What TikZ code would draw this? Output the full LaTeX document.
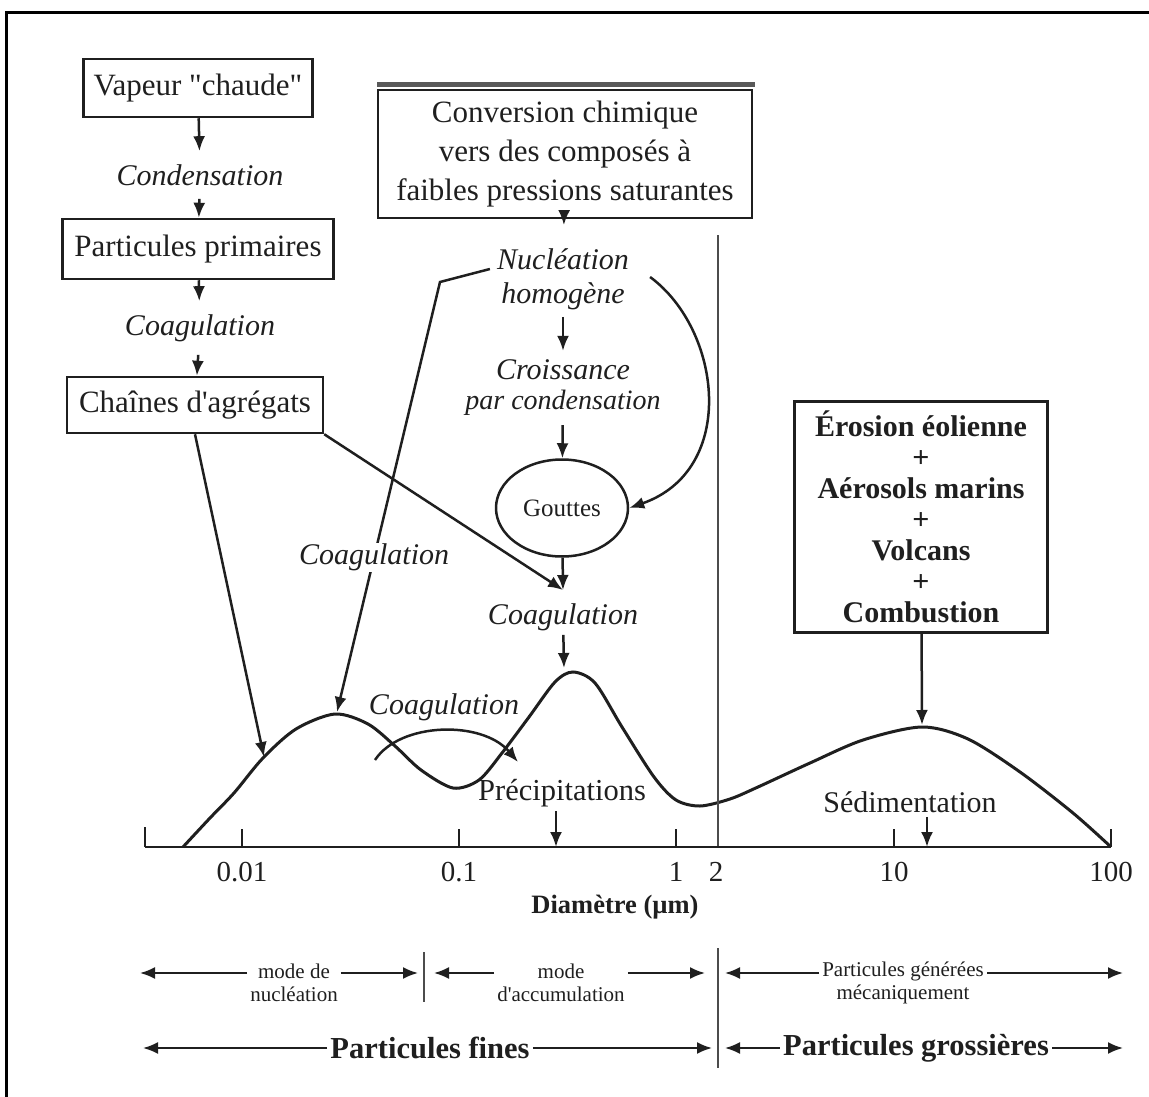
\documentclass[tikz,border=0pt]{standalone}
\usepackage{fontspec}
\setmainfont{Liberation Serif}[Ligatures=TeXOff]
\usetikzlibrary{shapes.geometric,arrows.meta}
\definecolor{ink}{gray}{0.12}

\begin{document}
\begin{tikzpicture}[
x=1pt, y=-1pt,
line width=2.5pt, draw=ink, text=ink,
>={Latex[length=15pt,width=12pt]},
]

\tikzstyle{bx} = [draw, shape=rectangle, line width=2.5pt, inner xsep=10pt, minimum height=58pt, font=\fontsize{31}{39}\selectfont]
\tikzstyle{itl} = [font=\itshape\fontsize{30}{34}\selectfont, inner sep=3pt]
\tikzstyle{flowlbl} = [itl, inner ysep=12pt]
\tikzstyle{rm} = [font=\fontsize{29}{32}\selectfont, inner sep=3pt]
\tikzstyle{mlbl} = [font=\fontsize{21}{23}\selectfont, align=center, inner xsep=2pt]
\tikzstyle{big} = [font=\bfseries\fontsize{30.5}{32}\selectfont, inner xsep=2pt]
\tikzstyle{thin} = [line width=1.2pt, draw=black!70]

\useasboundingbox (0,0) rectangle (1149,1097);
\draw[line width=3pt, black] (1149,13) -- (6,13) -- (6,1097);

% chain on the left
\node[bx] (vap) at (198,88) {Vapeur "chaude"};
\node[flowlbl] (cond) at (200,175) {Condensation};
\node[bx, inner xsep=12pt, minimum height=60pt] (prim) at (198,249) {Particules primaires};
\node[flowlbl] (coag1) at (200,328) {Coagulation};
\node[bx, inner xsep=12pt, minimum height=56pt] (chain) at (195,405) {Chaînes d'agrégats};
\draw[->] (vap) -- (cond);
\draw[->] (cond) -- (prim);
\draw[->] (prim) -- (coag1);
\draw[->] (coag1) -- (chain);

% chemistry in the middle
\draw[line width=5pt, black!65] (377,85) -- (755,85);
\node[bx, align=center, minimum width=374pt, minimum height=128pt] (conv) at (565,154)
  {Conversion chimique\\vers des composés à\\faibles pressions saturantes};
\node[itl, align=center, inner sep=6pt] (nuc) at (563,279) {Nucléation\\homogène};
\node[itl, align=center, inner sep=8pt] (crois) at (563,388) {Croissance\\[-4pt]{\fontsize{28}{30}\selectfont par condensation}};
\node[draw, ellipse, line width=2.5pt, minimum width=132pt, minimum height=97pt, font=\fontsize{25}{28}\selectfont] (gtt) at (562,508) {Gouttes};
\coordinate (cg) at (563,590);
\node[itl] (coag2) at (563,617) {Coagulation};
\draw[->, shorten >=16pt] (conv) -- (nuc);
\draw[->] (nuc) -- (crois);
\draw[->] (crois) -- (gtt);
\draw[->] (gtt) -- (cg);
\draw[->] ([xshift=14pt, yshift=2pt]nuc.east) .. controls (722,330) and (738,470) .. (gtt.east);

% source box on the right
\node[bx, align=center, font=\bfseries\fontsize{30}{31}\selectfont, minimum width=253pt, minimum height=231pt] (src) at (921,517)
  {Érosion éolienne\\+\\Aérosols marins\\+\\Volcans\\+\\Combustion};

% size distribution
\coordinate (a1) at (264,757);
\coordinate (p1) at (337,712);
\coordinate (p2) at (564,668);
\coordinate (p3) at (922,725);
\coordinate (pr) at (556,847);
\coordinate (sd) at (927,847);
\draw[line width=3pt] plot[smooth, tension=0.5] coordinates {(183,847) (210,818) (234,793) (263,758) (296,729) (335,714) (368,724) (395,746) (421,770) (453,788) (479,780) (502,753) (529,717) (555,682) (573,672) (595,683) (622,727) (654,777) (676,800) (700,806) (730,799) (758,787) (810,763) (863,740) (922,727) (968,739) (1020,772) (1073,813) (1111,847)};

\draw[thin] (718,235) -- (718,847);
\draw[thin] (718,948) -- (718,1068);
\draw[thin] (424,952) -- (424,1002);

\draw (145,847) -- (1111,847);
\draw (145,847) -- (145,827);
\node[rm, anchor=base] (t1) at (242,881) {0.01};
\node[rm, anchor=base] (t2) at (459,881) {0.1};
\node[rm, anchor=base] (t3) at (676,881) {1};
\node[rm, anchor=base] (t4) at (716,881) {2};
\node[rm, anchor=base] (t5) at (894,881) {10};
\node[rm, anchor=base] (t6) at (1111,881) {100};
\draw (242,847) -- (242,829);
\draw (459,847) -- (459,829);
\draw (676,847) -- (676,829);
\draw (894,847) -- (894,829);
\draw (1111,847) -- (1111,829);
\node[font=\bfseries\fontsize{26.5}{30}\selectfont] (diam) at (615,907) {Diamètre (µm)};

\draw[->] (chain.south) -- (a1);
\draw[->] (chain.south east) -- (cg);
\draw[->] ([yshift=10pt]nuc.west) -- (440,282) -- (p1) node[itl, pos=0.64, fill=white, inner sep=1pt] (coag3) {Coagulation};
\draw[->] (coag2) -- (p2);
\draw[->] (src) -- (p3);

\node[itl] (coag4) at (444,707) {Coagulation};
\draw[->] (375,760) .. controls (400,722) and (482,720) .. (518,762);
\node[rm, font=\fontsize{30.5}{32}\selectfont] (prec) at (562,793) {Précipitations};
\draw[->] (prec.south -| pr) -- (pr);
\node[rm, font=\fontsize{30}{32}\selectfont] (sed) at (910,802) {Sédimentation};
\draw[->] (sed.south -| sd) -- (sd);

% modes
\coordinate (e1) at (140,973);
\coordinate (e2) at (418,973);
\coordinate (e3) at (434,973);
\coordinate (e4) at (705,973);
\coordinate (e5) at (725,973);
\coordinate (e6) at (1123,973);
\node[mlbl] (mn) at (294,983) {mode de\\nucléation};
\node[mlbl] (ma) at (561,983) {mode\\d'accumulation};
\node[mlbl] (mg) at (903,983) {Particules générées\\mécaniquement};
\draw[->, line width=2pt] (mn.west |- e1) -- (e1);
\draw[->, line width=2pt] (mn.east |- e2) -- (e2);
\draw[->, line width=2pt] (ma.west |- e3) -- (e3);
\draw[->, line width=2pt] (ma.east |- e4) -- (e4);
\draw[->, line width=2pt] (mg.west |- e5) -- (e5);
\draw[->, line width=2pt] (mg.east |- e6) -- (e6);

\coordinate (f1) at (143,1048);
\coordinate (f2) at (712,1048);
\coordinate (f3) at (725,1048);
\coordinate (f4) at (1123,1048);
\node[big] (fin) at (430,1048) {Particules fines};
\node[big] (gro) at (916,1048) {Particules grossières};
\draw[->, line width=2pt] (fin.west) -- (f1);
\draw[->, line width=2pt] (fin.east) -- (f2);
\draw[->, line width=2pt] (gro.west) -- (f3);
\draw[->, line width=2pt] (gro.east) -- (f4);

\end{tikzpicture}
\end{document}
